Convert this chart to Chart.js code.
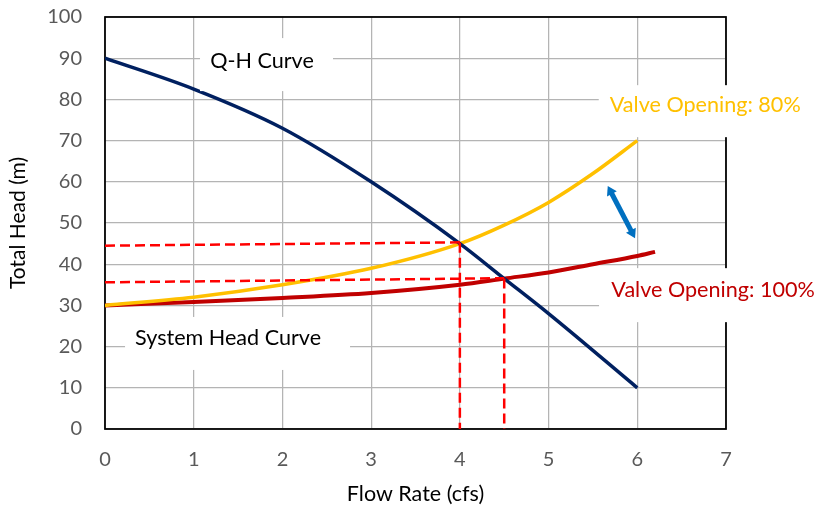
<!DOCTYPE html>
<html><head><meta charset="utf-8">
<script src="https://cdn.jsdelivr.net/npm/chart.js@4.4.1/dist/chart.umd.min.js"></script>
<style>html,body{margin:0;padding:0;background:#fff}canvas{display:block}</style>
</head><body>
<canvas id="c" width="817" height="507"></canvas>
<script>
// ---- data ----
const flowQH   = [0, 1, 2, 3, 4, 4.5, 5, 6];
const headQH   = [90, 82.5, 73, 60, 45, 36.5, 28, 10];
const flow80   = [0, 1, 2, 3, 4, 4.5, 5, 5.5, 6];
const head80   = [30, 32, 35, 39, 45, 49.5, 55, 62, 70];
const flow100  = [0, 1, 2, 3, 4, 4.5, 5, 5.5, 6, 6.2];
const head100  = [30, 30.8, 31.8, 33, 35, 36.5, 38, 40, 42, 43];
// operating point guide lines (dashed)
const guideA_x = [0, 4];     const guideA_y = [44.5, 45.3];
const guideB_x = [4, 4];     const guideB_y = [45.2, 0];
const guideC_x = [0, 4.5];   const guideC_y = [35.6, 36.6];
const guideD_x = [4.5, 4.5]; const guideD_y = [36.5, 0];
// double arrow between the two system curves
const arrowX = [5.667, 5.975];
const arrowY = [59, 46.3];
// tick values
const xTickValues = [0, 1, 2, 3, 4, 5, 6, 7];
const yTickValues = [0, 10, 20, 30, 40, 50, 60, 70, 80, 90, 100];
// annotation labels (text + anchor in data units)
const labelTexts = ['Q-H Curve', 'Valve Opening: 80%', 'Valve Opening: 100%', 'System Head Curve'];
const labelX     = [1.77, 6.766, 6.854, 1.387];
const labelY     = [89.3, 78.6, 33.7, 22.1];

// ---- layout / style ----
const FONT = 'Lato, "Open Sans", sans-serif';
const labelStyle = {
  colors: ['#000000', '#FFC000', '#C00000', '#000000'],
  boxW:  [133, 218, 218, 225],
  boxH:  [53, 52, 54, 53],
  boxDX: [4.5, 2.5, -5, 9.5],
  boxDY: [3.5, 6, 5, 5.5]
};

const pts = (xs, ys) => xs.map((v, i) => ({x: v, y: ys[i]}));

function fitLabelFont(ctx) {
  ctx.font = '100px ' + FONT;
  const w = ctx.measureText('System Head Curve').width;
  return 100 * 186 / w;
}

const deco = {
  id: 'deco',
  beforeDatasetsDraw(chart) {
    const {ctx, chartArea: a} = chart;
    ctx.save();
    ctx.strokeStyle = '#000';
    ctx.lineWidth = 1.75;
    ctx.strokeRect(a.left, a.top, a.right - a.left, a.bottom - a.top);
    ctx.restore();
  },
  afterDatasetsDraw(chart) {
    const {ctx, scales: {x, y}} = chart;
    ctx.save();
    // double arrow
    const x1 = x.getPixelForValue(arrowX[0]), y1 = y.getPixelForValue(arrowY[0]);
    const x2 = x.getPixelForValue(arrowX[1]), y2 = y.getPixelForValue(arrowY[1]);
    const len = Math.hypot(x2 - x1, y2 - y1);
    const ux = (x2 - x1) / len, uy = (y2 - y1) / len;
    const nx = -uy, ny = ux;
    const L = 9, W = 5.5;
    ctx.strokeStyle = '#0070C0';
    ctx.fillStyle = '#0070C0';
    ctx.lineWidth = 5;
    ctx.beginPath();
    ctx.moveTo(x1 + ux * (L - 1), y1 + uy * (L - 1));
    ctx.lineTo(x2 - ux * (L - 1), y2 - uy * (L - 1));
    ctx.stroke();
    const head = (tx, ty, dx, dy) => {
      ctx.beginPath();
      ctx.moveTo(tx, ty);
      ctx.lineTo(tx + dx * L + nx * W, ty + dy * L + ny * W);
      ctx.lineTo(tx + dx * L - nx * W, ty + dy * L - ny * W);
      ctx.closePath();
      ctx.fill();
    };
    head(x1, y1, ux, uy);
    head(x2, y2, -ux, -uy);

    // labels with white boxes
    const size = fitLabelFont(ctx);
    ctx.font = size.toFixed(2) + 'px ' + FONT;
    ctx.textAlign = 'center';
    ctx.textBaseline = 'middle';
    labelTexts.forEach((t, i) => {
      const cx = x.getPixelForValue(labelX[i]);
      const cy = y.getPixelForValue(labelY[i]);
      const bw = labelStyle.boxW[i], bh = labelStyle.boxH[i];
      const bx = cx + labelStyle.boxDX[i] - bw / 2;
      const by = cy + labelStyle.boxDY[i] - bh / 2;
      ctx.fillStyle = '#fff';
      ctx.fillRect(bx, by, bw, bh);
      ctx.fillStyle = labelStyle.colors[i];
      ctx.fillText(t, cx, cy);
    });
    ctx.restore();
  }
};

const curve = (label, data, color, width) => ({
  label, data, borderColor: color, backgroundColor: color, borderWidth: width,
  showLine: true, pointRadius: 0, cubicInterpolationMode: 'monotone', fill: false
});
const guide = (data) => ({
  data, borderColor: '#FF0000', borderWidth: 2.5, borderDash: [10, 5],
  showLine: true, pointRadius: 0, fill: false
});

new Chart(document.getElementById('c'), {
  type: 'scatter',
  data: {
    datasets: [
      guide(pts(guideA_x, guideA_y)),
      guide(pts(guideB_x, guideB_y)),
      guide(pts(guideC_x, guideC_y)),
      guide(pts(guideD_x, guideD_y)),
      curve('Q-H Curve', pts(flowQH, headQH), '#002060', 3.5),
      curve('Valve Opening: 80%', pts(flow80, head80), '#FFC000', 3.5),
      curve('Valve Opening: 100%', pts(flow100, head100), '#C00000', 4)
    ]
  },
  options: {
    responsive: false,
    animation: false,
    devicePixelRatio: 1,
    layout: {padding: {top: 0, right: 91, left: 0, bottom: 0}},
    plugins: {legend: {display: false}, tooltip: {enabled: false}},
    scales: {
      x: {
        type: 'linear', min: 0, max: 7,
        afterBuildTicks: s => { s.ticks = xTickValues.map(v => ({value: v})); },
        afterFit: s => { s.height = 78; },
        grid: {color: '#B4B4B4', lineWidth: 1.25, drawTicks: false},
        border: {display: false},
        ticks: {color: '#595959', font: {family: FONT, size: 20}, padding: 19, maxRotation: 0},
        title: {display: true, text: 'Flow Rate (cfs)', color: '#000', font: {family: FONT, size: 21.5}, padding: {top: 0, bottom: 0}}
      },
      y: {
        type: 'linear', min: 0, max: 100,
        afterBuildTicks: s => { s.ticks = yTickValues.map(v => ({value: v})); },
        afterFit: s => { s.width = 105; s.paddingTop = 17; s.paddingBottom = 0; },
        grid: {color: '#B4B4B4', lineWidth: 1.25, drawTicks: false},
        border: {display: false},
        ticks: {color: '#595959', font: {family: FONT, size: 20}, padding: 23},
        title: {display: true, text: 'Total Head (m)', color: '#000', font: {family: FONT, size: 21}, padding: {top: 6, bottom: 0}}
      }
    }
  },
  plugins: [deco]
});
</script>
</body></html>
